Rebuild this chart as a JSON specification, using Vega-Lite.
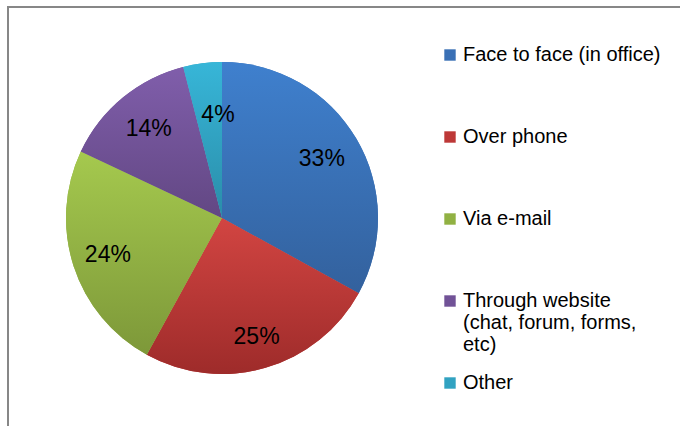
{
  "$schema": "https://vega.github.io/schema/vega-lite/v6.json",
  "width": 444,
  "height": 416,
  "autosize": {"type": "none"},
  "padding": {"left": 0, "top": 10, "right": 236, "bottom": 0},
  "background": "white",
  "config": {"view": {"stroke": null}, "font": "Liberation Sans"},
  "data": {
    "values": [
      {"idx": 1, "cat": "Face to face (in office)", "share": 0.33},
      {"idx": 2, "cat": "Over phone", "share": 0.25},
      {"idx": 3, "cat": "Via e-mail", "share": 0.24},
      {"idx": 4, "cat": "Through website (chat, forum, forms, etc)", "share": 0.14},
      {"idx": 5, "cat": "Other", "share": 0.04}
    ]
  },
  "transform": [
    {"stack": "share", "groupby": [], "sort": [{"field": "idx", "order": "ascending"}], "as": ["s0", "s1"]}
  ],
  "layer": [
    {
      "data": {"values": [{"frame": 1}]},
      "transform": [],
      "mark": {"type": "rect", "filled": false, "stroke": "#878787", "strokeWidth": 2, "clip": false},
      "encoding": {
        "x": {"value": 8},
        "y": {"value": -3},
        "x2": {"value": 1000},
        "y2": {"value": 1000}
      }
    },
    {
      "mark": {"type": "arc", "outerRadius": 156},
      "encoding": {
        "theta": {"field": "s0", "type": "quantitative", "scale": {"domain": [0, 1]}},
        "theta2": {"field": "s1"},
        "color": {
          "field": "cat",
          "type": "nominal",
          "scale": {
            "domain": ["Face to face (in office)", "Over phone", "Via e-mail", "Through website (chat, forum, forms, etc)", "Other"],
            "range": ["#3A70B5", "#BD3837", "#91B143", "#715297", "#31A2C1"]
          },
          "legend": {
            "orient": "none",
            "legendX": 440,
            "legendY": 35,
            "padding": 0,
            "title": null,
            "symbolType": "square",
            "symbolSize": 130,
            "symbolStrokeWidth": 0,
            "labelFontSize": 20,
            "labelColor": "black",
            "labelFont": "Liberation Sans",
            "labelLimit": 300,
            "labelOffset": 3,
            "rowPadding": 18,
            "labelExpr": "datum.label == 'Through website (chat, forum, forms, etc)' ? ['Through website', '(chat, forum, forms,', 'etc)'] : [datum.label, ' ', ' ']"
          }
        }
      }
    },
    {
      "transform": [{"filter": "datum.idx == 1"}],
      "mark": {"type": "arc", "outerRadius": 156, "fill": {"gradient": "linear", "x1": 0, "y1": 0, "x2": 0, "y2": 1, "stops": [{"offset": 0, "color": "#3F80CE"}, {"offset": 1, "color": "#33619D"}]}},
      "encoding": {
        "theta": {"field": "s0", "type": "quantitative", "scale": {"domain": [0, 1]}},
        "theta2": {"field": "s1"}
      }
    },
    {
      "transform": [{"filter": "datum.idx == 2"}],
      "mark": {"type": "arc", "outerRadius": 156, "fill": {"gradient": "linear", "x1": 0, "y1": 0, "x2": 0, "y2": 1, "stops": [{"offset": 0, "color": "#D24542"}, {"offset": 1, "color": "#9E2B2A"}]}},
      "encoding": {
        "theta": {"field": "s0", "type": "quantitative", "scale": {"domain": [0, 1]}},
        "theta2": {"field": "s1"}
      }
    },
    {
      "transform": [{"filter": "datum.idx == 3"}],
      "mark": {"type": "arc", "outerRadius": 156, "fill": {"gradient": "linear", "x1": 0, "y1": 0, "x2": 0, "y2": 1, "stops": [{"offset": 0, "color": "#A5C94E"}, {"offset": 1, "color": "#7D9839"}]}},
      "encoding": {
        "theta": {"field": "s0", "type": "quantitative", "scale": {"domain": [0, 1]}},
        "theta2": {"field": "s1"}
      }
    },
    {
      "transform": [{"filter": "datum.idx == 4"}],
      "mark": {"type": "arc", "outerRadius": 156, "fill": {"gradient": "linear", "x1": 0, "y1": 0, "x2": 0, "y2": 1, "stops": [{"offset": 0, "color": "#805EAB"}, {"offset": 1, "color": "#624783"}]}},
      "encoding": {
        "theta": {"field": "s0", "type": "quantitative", "scale": {"domain": [0, 1]}},
        "theta2": {"field": "s1"}
      }
    },
    {
      "transform": [{"filter": "datum.idx == 5"}],
      "mark": {"type": "arc", "outerRadius": 156, "fill": {"gradient": "linear", "x1": 0, "y1": 0, "x2": 0, "y2": 1, "stops": [{"offset": 0, "color": "#37B6D8"}, {"offset": 1, "color": "#2A8DA9"}]}},
      "encoding": {
        "theta": {"field": "s0", "type": "quantitative", "scale": {"domain": [0, 1]}},
        "theta2": {"field": "s1"}
      }
    },
    {
      "mark": {
        "type": "text",
        "fontSize": 23,
        "color": "black",
        "font": "Liberation Sans",
        "radius": {"expr": "datum.idx == 1 ? 116 : datum.idx == 2 ? 124 : datum.idx == 3 ? 120 : datum.idx == 4 ? 115 : 104"},
        "dx": {"expr": "datum.idx == 5 ? 9 : 0"}
      },
      "encoding": {
        "theta": {"field": "share", "type": "quantitative", "stack": true, "sort": null},
        "order": {"field": "idx", "type": "quantitative"},
        "text": {"field": "share", "type": "quantitative", "format": ".0%"}
      }
    }
  ]
}
